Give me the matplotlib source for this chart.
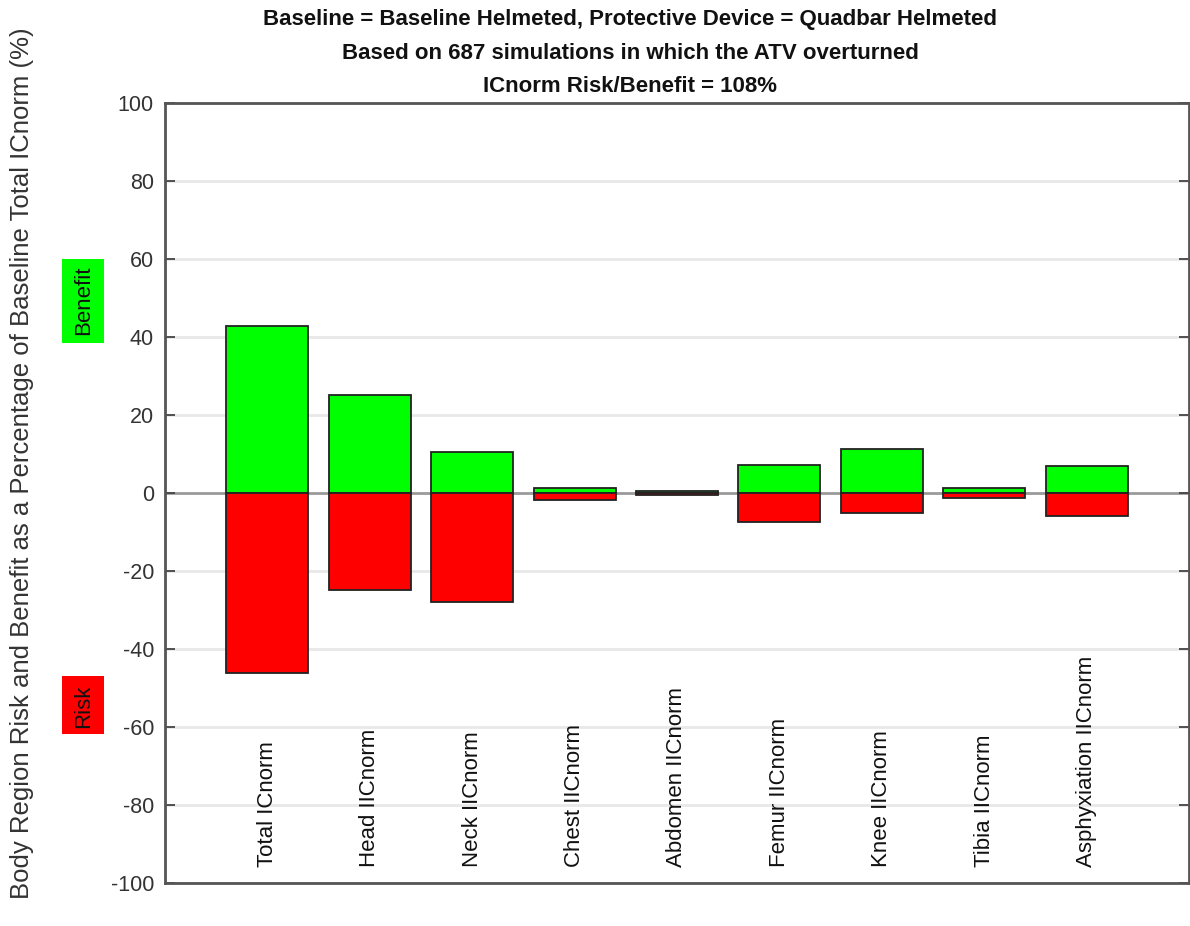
import numpy as np
import matplotlib
matplotlib.use("Agg")
import matplotlib.pyplot as plt
from matplotlib.patches import Rectangle

plt.rcParams['font.family'] = ['Liberation Sans', 'DejaVu Sans']
plt.rcParams['axes.unicode_minus'] = False

# data
categories = ['Total ICnorm', 'Head IICnorm', 'Neck IICnorm', 'Chest IICnorm',
              'Abdomen IICnorm', 'Femur IICnorm', 'Knee IICnorm', 'Tibia IICnorm',
              'Asphyxiation IICnorm']
benefit = [42.9, 25.2, 10.4, 1.2, 0.6, 7.2, 11.4, 1.2, 7.0]
risk = [-46.2, -24.8, -28.0, -1.9, -0.6, -7.4, -5.0, -1.4, -5.8]
yticks = [-100, -80, -60, -40, -20, 0, 20, 40, 60, 80, 100]

title_lines = ['Baseline = Baseline Helmeted, Protective Device = Quadbar Helmeted',
               'Based on 687 simulations in which the ATV overturned',
               'ICnorm Risk/Benefit = 108%']
ylabel = 'Body Region Risk and Benefit as a Percentage of Baseline Total ICnorm (%)'

W, H = 1190, 926
fig = plt.figure(figsize=(W / 100, H / 100), dpi=100)
ax = fig.add_axes([165 / W, 1 - 883 / H, (1189 - 165) / W, (883 - 103) / H])

x = np.arange(1, len(categories) + 1)
for yt in yticks:
    if yt != 0:
        ax.axhline(yt, color='#e8e8e8', lw=2, zorder=0)
ax.axhline(0, color='#9a9a9a', lw=2, zorder=1)

ax.bar(x, benefit, width=0.8, color='#00ff00', edgecolor='#222222', lw=1.3, zorder=2)
ax.bar(x, risk, width=0.8, color='#ff0000', edgecolor='#222222', lw=1.3, zorder=2)

for xi, name in zip(x, categories):
    ax.text(xi, -96, name, rotation=90, ha='center', va='bottom', fontsize=16,
            color='#111111')

ax.set_xlim(0, 10)
ax.set_ylim(-100, 100)
ax.set_xticks([])
ax.set_yticks(yticks)
ax.tick_params(axis='y', direction='in', length=7, width=1.3, color='#444444',
               labelsize=15.5, labelcolor='#333333', right=True, pad=8)
for s in ax.spines.values():
    s.set_color('#555555')
    s.set_linewidth(2)

fig.text(22 / W, 1 - 463 / H, ylabel, rotation=90, ha='center', va='center',
         fontsize=18.5, color='#333333')

for i, line in enumerate(title_lines):
    fig.text(630 / W, 1 - (20 + 33.5 * i) / H, line, ha='center', va='center',
             fontsize=16, fontweight='bold', color='#111111',
             family=['Liberation Sans Narrow', 'Liberation Sans'])

# Benefit / Risk key boxes
fig.add_artist(Rectangle((62 / W, 1 - 343 / H), 42 / W, 84 / H,
                         transform=fig.transFigure, facecolor='#00ff00', edgecolor='none'))
fig.text(84 / W, 1 - 300 / H, 'Benefit', rotation=90, ha='center', va='center',
         fontsize=16, color='#111111')
fig.add_artist(Rectangle((62 / W, 1 - 734 / H), 42 / W, 58 / H,
                         transform=fig.transFigure, facecolor='#ff0000', edgecolor='none'))
fig.text(84 / W, 1 - 706 / H, 'Risk', rotation=90, ha='center', va='center',
         fontsize=16, color='#111111')

fig.savefig('out.png', dpi=100)
